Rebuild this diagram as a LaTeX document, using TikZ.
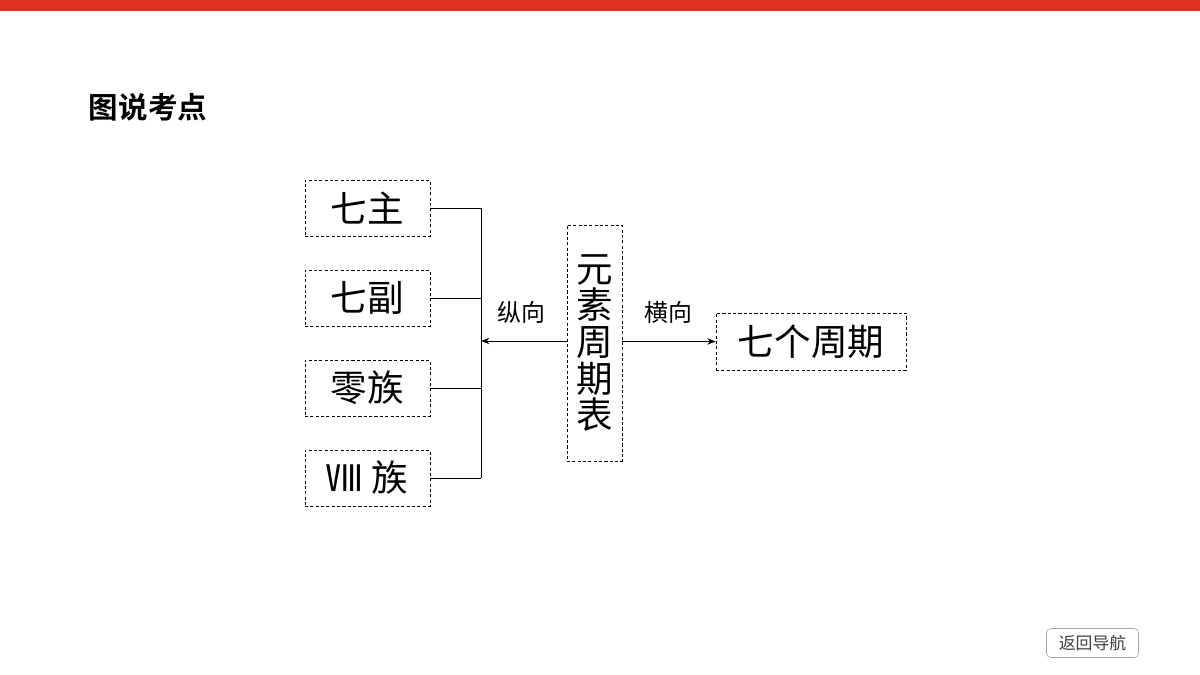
\documentclass[tikz,border=0pt]{standalone}
\usepackage{fontspec}
\newfontfamily\cjk{Noto Sans CJK SC}
\newfontfamily\cjkb{Noto Sans CJK SC Bold}
\usetikzlibrary{arrows.meta}
\definecolor{topred}{RGB}{226,48,36}
\tikzset{
  dbox/.style={draw, dashed, dash pattern=on 2.2pt off 1.6pt, line width=0.6pt, inner sep=0pt},
  big/.style={font=\cjk\fontsize{26}{30}\selectfont},
  lbl/.style={font=\cjk\fontsize{17}{20}\selectfont},
  ln/.style={line width=0.7pt},
  arr/.style={ln,-{Stealth[length=6pt,width=4.5pt]}}
}
\begin{document}
\begin{tikzpicture}[x=0.025cm,y=-0.025cm]
\useasboundingbox (0,0) rectangle (1200,675);
\fill[topred] (0,0) rectangle (1200,11);
\node[anchor=west,font=\cjkb\fontsize{21}{24}\selectfont] (title) at (84,107) {图说考点};
% left boxes
\node[dbox,minimum width=125*0.025cm,minimum height=56*0.025cm,big] (b1) at (367.5,208) {七主};
\node[dbox,minimum width=125*0.025cm,minimum height=56*0.025cm,big] (b2) at (367.5,298) {七副};
\node[dbox,minimum width=125*0.025cm,minimum height=56*0.025cm,big] (b3) at (367.5,388) {零族};
\node[dbox,minimum width=125*0.025cm,minimum height=56*0.025cm,big] (b4) at (367.5,478) {Ⅷ 族};
\coordinate (j1) at (481,208);
\coordinate (j2) at (481,298);
\coordinate (j3) at (481,388);
\coordinate (j4) at (481,478);
\coordinate (jm) at (481,341);
\draw[ln] (b1.east) -- (j1);
\draw[ln] (b2.east) -- (j2);
\draw[ln] (b3.east) -- (j3);
\draw[ln] (b4.east) -- (j4);
\draw[ln] (j1) -- (j4);
% centre
\node[dbox,minimum width=55*0.025cm,minimum height=236*0.025cm,big,align=center] (c) at (594.5,343) {元\\[-4pt]素\\[-4pt]周\\[-4pt]期\\[-4pt]表};
\draw[arr] (c.west |- jm) -- (jm);
\node[lbl] (l1) at (521,312) {纵向};
\node[dbox,minimum width=190*0.025cm,minimum height=57*0.025cm,big] (r) at (811,341.5) {七个周期};
\draw[arr] (c.east |- r.west) -- (r.west);
\node[lbl] (l2) at (668,312) {横向};
% button
\node[draw=gray!70,rounded corners=3pt,fill=white,minimum width=92*0.025cm,minimum height=29*0.025cm,inner sep=0pt,font=\cjk\fontsize{12}{14}\selectfont,text=black!75] (btn) at (1092.5,643) {返回导航};
\end{tikzpicture}
\end{document}
